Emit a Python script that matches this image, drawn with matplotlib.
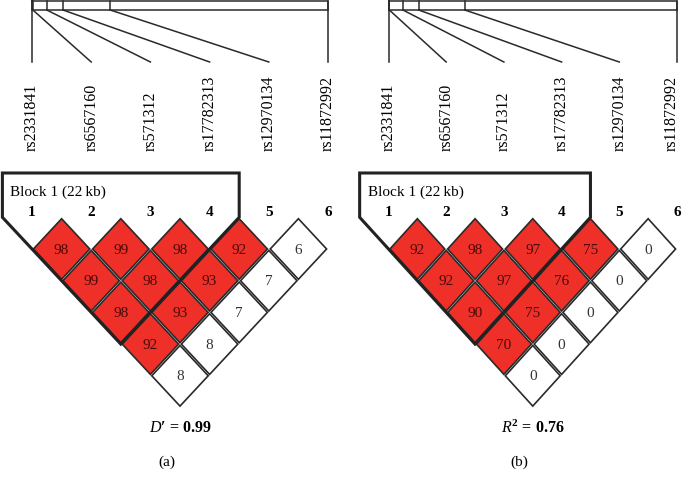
import numpy as np
import matplotlib.pyplot as plt
from matplotlib.patches import Polygon

plt.rcParams['font.family'] = ['Liberation Serif', 'DejaVu Serif']
plt.rcParams['mathtext.fontset'] = 'custom'
plt.rcParams['mathtext.rm'] = 'Liberation Serif'
plt.rcParams['mathtext.it'] = 'Liberation Serif:italic'
plt.rcParams['mathtext.bf'] = 'Liberation Serif:bold'

snps = ["rs2331841", "rs6567160", "rs571312", "rs17782313", "rs12970134", "rs11872992"]
# approximate physical positions (kb) read from the top ruler
pos_kb = [0.0, 0.6, 10.5, 22.0, 55.5, 210.0]
block_end = 4  # block 1 covers markers 1..4
block_label = "Block 1 (22\u2009kb)"

# pairwise values, rows = distance between markers (1 = neighbours)
dprime = [[98, 99, 98, 92, 6],
          [99, 98, 93, 7],
          [98, 93, 7],
          [92, 8],
          [8]]
rsq = [[92, 98, 97, 75, 0],
       [92, 97, 76, 0],
       [90, 75, 0],
       [70, 0],
       [0]]

panels = [
    dict(vals=dprime, x0=32.0, step=59.2, stat="$D$\u2032 = 0.99", tag="(a)"),
    dict(vals=rsq, x0=388.5, step=57.7, stat=r"$R^{\mathregular{2}}$ = 0.76", tag="(b)"),
]

red = "#ee3029"
line_c = "#2a2a2a"

fig = plt.figure(figsize=(6.83, 4.84), dpi=100)
ax = fig.add_axes([0, 0, 1, 1])
ax.set_xlim(0, 683)
ax.set_ylim(484, 0)
ax.axis("off")

n = len(snps)
y1 = 249.0   # centre of first diamond row
vs = 31.7    # row spacing = diamond half height
gap = 1.4

for p in panels:
    step = p["step"]
    hw = step / 2
    xm = p["x0"] + step * np.arange(n)
    frac = np.array(pos_kb) / pos_kb[-1]
    xp = xm[0] + frac * (xm[-1] - xm[0])

    # ruler box with marker ticks
    ax.plot([xp[0], xp[-1], xp[-1], xp[0], xp[0]], [0.5, 0.5, 10, 10, 0.5], color=line_c, lw=1.1)
    for i in range(n):
        ax.plot([xp[i], xp[i]], [0.5, 10], color=line_c, lw=1.1)
        ax.plot([xp[i], xm[i]], [10, 62], color=line_c, lw=1.1)
        ax.text(min(xm[i], 672), 151, snps[i], rotation=90, ha="center", va="bottom", fontsize=11.5)
        ax.text(xm[i], 212, str(i + 1), ha="center", va="center", fontsize=11, fontweight="bold")

    # LD diamonds
    for d, row in enumerate(p["vals"]):
        for i, v in enumerate(row):
            j = i + d + 1
            cx = (xm[i] + xm[j]) / 2
            cy = y1 + d * vs
            fc = red if v >= 50 else "white"
            poly = Polygon([(cx, cy - vs + gap), (cx + hw - gap, cy), (cx, cy + vs - gap), (cx - hw + gap, cy)],
                           closed=True, facecolor=fc, edgecolor=line_c, lw=1.2)
            ax.add_patch(poly)
            tc = "#4a0808" if v >= 50 else "#333333"
            ax.text(cx, cy + 1, str(v), ha="center", va="center", fontsize=11, color=tc)

    # block outline
    b = block_end - 1
    xl, xr = xm[0] - hw, xm[b] + hw
    apex = ((xm[0] + xm[b]) / 2, y1 + (b - 1) * vs + vs)
    outline = Polygon([(xl, 173), (xr, 173), (xr, y1 - vs), apex, (xl, y1 - vs)],
                      closed=True, fill=False, edgecolor="#222222", lw=2.2)
    ax.add_patch(outline)
    ax.text(xl + 8, 192, block_label, ha="left", va="center", fontsize=11)

    xc = (xm[0] + xm[-1]) / 2
    ax.text(xc, 428, p["stat"], ha="center", va="center", fontsize=11.5, fontweight="bold")
    ax.text(xc - 13, 462, p["tag"], ha="center", va="center", fontsize=11)

fig.savefig("out.png", dpi=100)
